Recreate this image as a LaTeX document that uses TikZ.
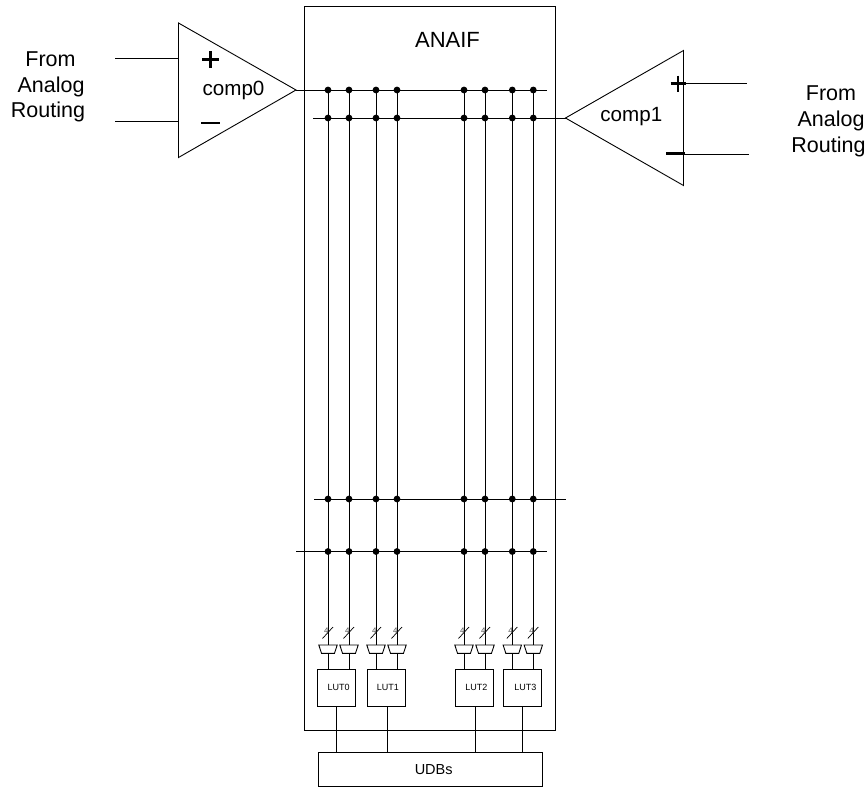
\documentclass[tikz,border=0pt]{standalone}
\usepackage{fontspec}
\setmainfont{Liberation Sans}
\begin{document}
\begin{tikzpicture}[x=1pt,y=-1pt,line width=0.9pt,
  wire/.style={line width=0.9pt},
  jdot/.style={circle,fill=black,inner sep=0pt,minimum size=6.8pt},
  lutbox/.style={draw,line width=0.9pt,minimum width=38pt,minimum height=37.5pt,inner sep=0pt,font=\fontsize{9}{10}\selectfont,text depth=0pt},
  lab/.style={inner sep=0pt,anchor=base,font=\fontsize{21.5}{26}\selectfont},
  compl/.style={inner sep=0pt,anchor=base,font=\fontsize{20.6}{22}\selectfont},
  signbar/.style={line width=2.3pt},
  muxshape/.style={draw,line width=0.9pt,fill=white}]
\useasboundingbox (0,0) rectangle (868,787);
% frame
\node[draw,line width=1.2pt,minimum width=251pt,minimum height=724pt,inner sep=0pt] (frame) at (430,368.5) {};
\node[inner sep=0pt,anchor=base,font=\fontsize{22}{24}\selectfont] (anaif) at (447.5,47) {ANAIF};
% UDB box
\node[draw,line width=0.9pt,minimum width=224.5pt,minimum height=33.5pt,inner sep=0pt,font=\fontsize{14.5}{16}\selectfont] (udb) at (430.5,769.5) {\hspace*{6.4pt}UDBs};
% comparators
\coordinate (c0a) at (178.5,23); \coordinate (c0b) at (178.5,157.5); \coordinate (c0o) at (296,90);
\draw[wire,line join=miter] (c0a) -- (c0o) -- (c0b) -- cycle;
\coordinate (c1a) at (683.5,50.5); \coordinate (c1b) at (683.5,185.5); \coordinate (c1o) at (565.5,118);
\draw[wire] (c1a) -- (c1o) -- (c1b) -- cycle;
\node[compl] (comp0) at (233.5,95) {comp0};
\node[compl] (comp1) at (631.3,121.7) {comp1};
% inputs
\coordinate (i0a) at (115,58); \coordinate (i0at) at (178.5,58);
\coordinate (i0b) at (115,121); \coordinate (i0bt) at (178.5,121);
\draw[wire] (i0a) -- (i0at); \draw[wire] (i0b) -- (i0bt);
\coordinate (i1a) at (747,83.5); \coordinate (i1at) at (683.5,83.5);
\coordinate (i1b) at (749,154.5); \coordinate (i1bt) at (683.5,154.5);
\draw[wire] (i1at) -- (i1a); \draw[wire] (i1bt) -- (i1b);
% signs
\draw[signbar] (202,59.5) -- (219,59.5) (210.5,51) -- (210.5,68);
\draw[signbar] (201,123) -- (220,123);
\draw[signbar] (670.5,83.5) -- (686,83.5) (678,75.5) -- (678,92);
\draw[signbar] (666,153.5) -- (685,153.5);
% labels
\node[lab] (l0a) at (50.5,66.5) {From};
\node[lab] (l0b) at (51,92) {Analog};
\node[lab] (l0c) at (48,117) {Routing};
\node[lab] (l1a) at (831,100) {From};
\node[lab] (l1b) at (831,126) {Analog};
\node[lab] (l1c) at (828.5,152) {Routing};
% horizontal buses
\coordinate (h1l) at (296,90);  \coordinate (h1r) at (547,90);
\coordinate (h2l) at (313,118); \coordinate (h2r) at (565.5,118);
\coordinate (h3l) at (314,499); \coordinate (h3r) at (566,499);
\coordinate (h4l) at (296,551.5); \coordinate (h4r) at (547,551.5);
\draw[wire] (h1l) -- (h1r); \draw[wire] (h2l) -- (h2r);
\draw[wire] (h3l) -- (h3r); \draw[wire] (h4l) -- (h4r);
% vertical lines, dots, slashes, muxes
\foreach \n/\x in {a/328,b/349,c/376,d/397,e/464,f/485,g/512.3,h/533.3}{
  \coordinate (top\n) at (\x,90);
  \coordinate (bot\n) at (\x,669);
  \draw[wire] (top\n) -- (bot\n);
  \foreach \y in {90,118,499,551.5}{
    \node[jdot] at (\x,\y) {};
  }
  \draw[line width=0.7pt] (\x-5.5,638.5) -- (\x+5,627);
  \node[inner sep=0pt,text=black!70,font=\fontsize{8}{9}\selectfont] at (\x-1.7,631) {4};
  \draw[muxshape] (\x-9.2,645) -- (\x+9.2,645) -- (\x+6.5,653.3) -- (\x-6.5,653.3) -- cycle;
}
% LUTs
\node[lutbox] (lut0) at (336.2,687.8) {\hspace*{5pt}LUT0};
\node[lutbox] (lut1) at (386.3,687.8) {\hspace*{3pt}LUT1};
\node[lutbox] (lut2) at (474.3,687.8) {\hspace*{4pt}LUT2};
\node[lutbox] (lut3) at (522.8,687.8) {\hspace*{5pt}LUT3};
\draw[wire] (lut0.south) -- (lut0.south |- udb.north);
\draw[wire] ([xshift=1.4pt]lut1.south) -- ([xshift=1.4pt]lut1.south |- udb.north);
\draw[wire] ([xshift=1pt]lut2.south) -- ([xshift=1pt]lut2.south |- udb.north);
\draw[wire] (lut3.south) -- (lut3.south |- udb.north);
\end{tikzpicture}
\end{document}
